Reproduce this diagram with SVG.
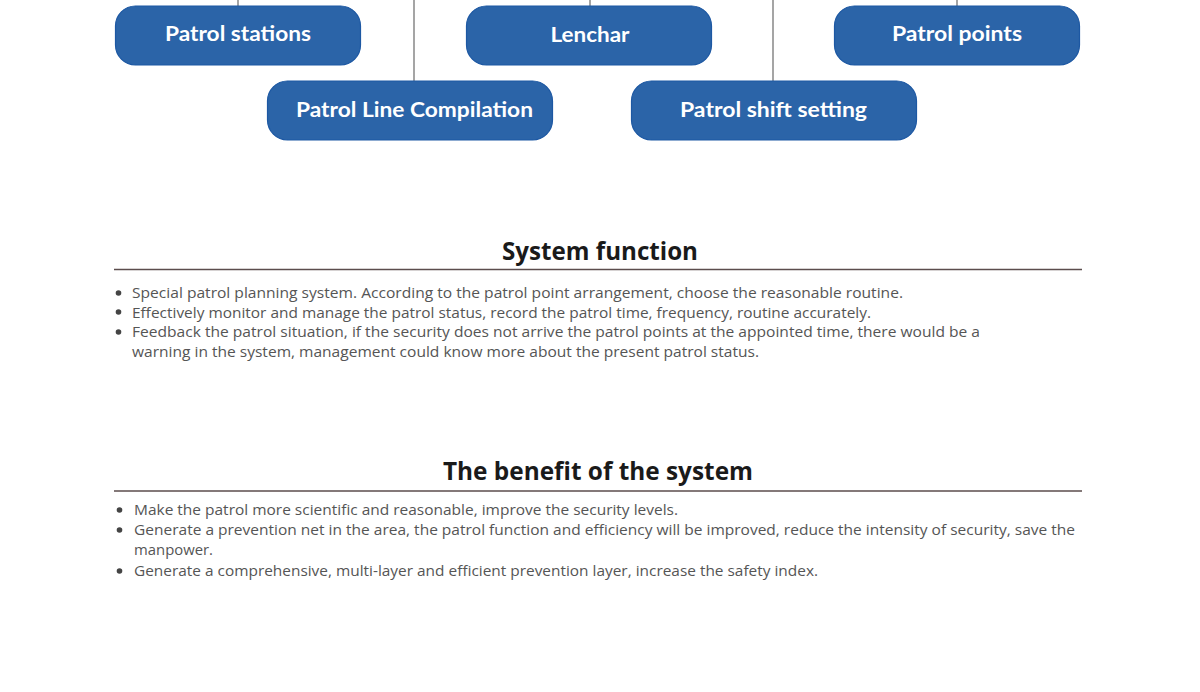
<svg xmlns="http://www.w3.org/2000/svg" width="1200" height="692" viewBox="0 0 1200 692">
<style>
.box{fill:#2b64a8;stroke:#1d58a3;stroke-width:1.2}
.lbl{font-family:Lato,"Open Sans","Liberation Sans",sans-serif;font-weight:700;font-size:21px;fill:#ffffff;text-anchor:middle}
.conn{stroke:#8f8f8f;stroke-width:1.6;fill:none}
.h{font-family:"Open Sans","Liberation Sans",sans-serif;font-weight:700;font-size:25px;fill:#1a1a1a;text-anchor:middle}
.rule{stroke:#5b4d4d;stroke-width:1.3}
.t{font-family:"Open Sans","Liberation Sans",sans-serif;font-size:15px;fill:#555555}
.dot{fill:#444444}
</style>
<rect width="1200" height="692" fill="#ffffff"/>
<g id="connectors">
<line class="conn" x1="238" y1="0" x2="238" y2="6"/>
<line class="conn" x1="590" y1="0" x2="590" y2="6"/>
<line class="conn" x1="957" y1="0" x2="957" y2="6"/>
<line class="conn" x1="414" y1="0" x2="414" y2="81"/>
<line class="conn" x1="773" y1="0" x2="773" y2="81"/>
</g>
<g id="patrol-stations">
<rect class="box" x="115.5" y="6" width="245" height="59" rx="20"/>
<text class="lbl" x="238" y="41" textLength="146" lengthAdjust="spacingAndGlyphs">Patrol stations</text>
</g>
<g id="lenchar">
<rect class="box" x="466.5" y="6" width="245" height="59" rx="20"/>
<text class="lbl" x="590" y="42" textLength="79" lengthAdjust="spacingAndGlyphs">Lenchar</text>
</g>
<g id="patrol-points">
<rect class="box" x="834.5" y="6" width="245" height="59" rx="20"/>
<text class="lbl" x="957" y="41" textLength="130" lengthAdjust="spacingAndGlyphs">Patrol points</text>
</g>
<g id="patrol-line-compilation">
<rect class="box" x="267.5" y="81" width="285" height="59" rx="20"/>
<text class="lbl" x="414.5" y="117" textLength="237" lengthAdjust="spacingAndGlyphs">Patrol Line Compilation</text>
</g>
<g id="patrol-shift-setting">
<rect class="box" x="631.5" y="81" width="285" height="59" rx="20"/>
<text class="lbl" x="773.5" y="117" textLength="187" lengthAdjust="spacingAndGlyphs">Patrol shift setting</text>
</g>
<g id="system-function">
<text class="h" x="600" y="260" textLength="196" lengthAdjust="spacingAndGlyphs">System function</text>
<line class="rule" x1="114" y1="269.5" x2="1082" y2="269.5"/>
<circle class="dot" cx="118.5" cy="293" r="2.8"/>
<circle class="dot" cx="118.5" cy="312" r="2.8"/>
<circle class="dot" cx="118.5" cy="332" r="2.8"/>
<text class="t" x="132" y="298" textLength="771" lengthAdjust="spacingAndGlyphs">Special patrol planning system. According to the patrol point arrangement, choose the reasonable routine.</text>
<text class="t" x="132" y="318" textLength="739" lengthAdjust="spacingAndGlyphs">Effectively monitor and manage the patrol status, record the patrol time, frequency, routine accurately.</text>
<text class="t" x="132" y="337" textLength="848" lengthAdjust="spacingAndGlyphs">Feedback the patrol situation, if the security does not arrive the patrol points at the appointed time, there would be a</text>
<text class="t" x="132" y="357" textLength="627" lengthAdjust="spacingAndGlyphs">warning in the system, management could know more about the present patrol status.</text>
</g>
<g id="benefit">
<text class="h" x="598" y="480" textLength="310" lengthAdjust="spacingAndGlyphs">The benefit of the system</text>
<line class="rule" x1="114" y1="491" x2="1082" y2="491"/>
<circle class="dot" cx="119.5" cy="510" r="2.8"/>
<circle class="dot" cx="119.5" cy="530" r="2.8"/>
<circle class="dot" cx="119.5" cy="571" r="2.8"/>
<text class="t" x="134" y="515" textLength="544" lengthAdjust="spacingAndGlyphs">Make the patrol more scientific and reasonable, improve the security levels.</text>
<text class="t" x="134" y="535" textLength="941" lengthAdjust="spacingAndGlyphs">Generate a prevention net in the area, the patrol function and efficiency will be improved, reduce the intensity of security, save the</text>
<text class="t" x="134" y="555" textLength="79" lengthAdjust="spacingAndGlyphs">manpower.</text>
<text class="t" x="134" y="576" textLength="684" lengthAdjust="spacingAndGlyphs">Generate a comprehensive, multi-layer and efficient prevention layer, increase the safety index.</text>
</g>
</svg>
